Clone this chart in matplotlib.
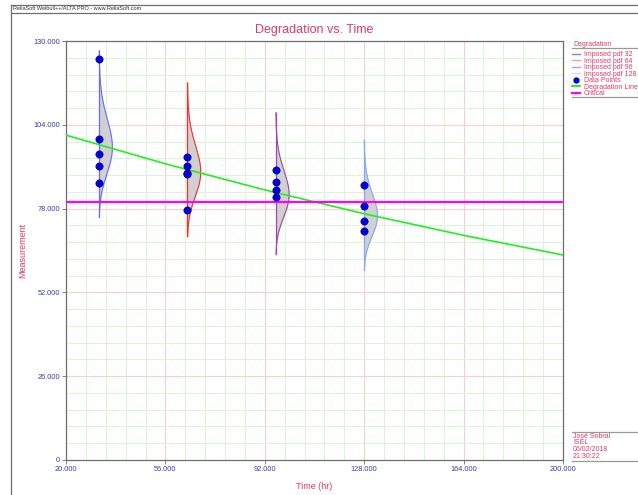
import numpy as np
import matplotlib
matplotlib.use('Agg')
import matplotlib.pyplot as plt
from matplotlib.lines import Line2D
from matplotlib.ticker import FixedLocator

plt.rcParams['font.family'] = ['Liberation Sans', 'DejaVu Sans']

# measured data points (time, measurement)
times_32 = [32, 32, 32, 32, 32]
meas_32 = [124.5, 99.7, 95.0, 91.3, 85.9]
times_64 = [64, 64, 64, 64, 64]
meas_64 = [94.0, 91.2, 89.0, 88.6, 77.5]
times_96 = [96, 96, 96, 96]
meas_96 = [90.1, 86.4, 83.8, 81.7]
times_128 = [128, 128, 128, 128]
meas_128 = [85.2, 78.7, 74.1, 71.0]

# degradation line read at the tick positions
line_t = [20, 56, 92, 128, 164, 200]
line_y = [100.8, 91.9, 83.8, 76.4, 69.7, 63.6]
critical = 80.0

# imposed pdfs (lognormal): median at each inspection time, log-sigma
pdf_times = [32, 64, 96, 128]
pdf_medians = [97.8, 90.1, 83.0, 76.4]
pdf_sigma = 0.087
pdf_colors = ['#6a6aff', '#ff2a2a', '#a048a8', '#86a8f4']
legend_colors = ['#8080ff', '#ff9a9a', '#c898d0', '#cfe0ff']
pdf_labels = ['Imposed pdf 32', 'Imposed pdf 64', 'Imposed pdf 96', 'Imposed pdf 128']

x_ticks = [20, 56, 92, 128, 164, 200]
y_ticks = [0, 26, 52, 78, 104, 130]

pink = '#e6386a'
tick_blue = '#3b3ba6'
frame_gray = '#6e6e6e'

fig = plt.figure(figsize=(6.38, 4.95), dpi=100)
ax = fig.add_axes([66 / 638, 1 - 460 / 495, 497 / 638, 419 / 495])

# grid
ax.set_xlim(20, 200)
ax.set_ylim(0, 130)
ax.set_xticks(x_ticks)
ax.set_yticks(y_ticks)
ax.xaxis.set_minor_locator(FixedLocator(np.arange(20, 200.1, 7.2)))
ax.yaxis.set_minor_locator(FixedLocator(np.arange(0, 130.1, 5.2)))
ax.grid(which='minor', color='#d6f6d6', lw=0.7, zorder=0)
ax.grid(which='major', color='#ffcccc', lw=0.8, zorder=0)
ax.set_axisbelow(True)

# imposed pdfs
peak_width = 4.8
for t, med, col in zip(pdf_times, pdf_medians, pdf_colors):
    yy = np.linspace(med * np.exp(-3 * pdf_sigma), med * np.exp(3 * pdf_sigma), 200)
    dens = np.exp(-(np.log(yy) - np.log(med)) ** 2 / (2 * pdf_sigma ** 2)) / yy
    dens = dens / dens.max() * peak_width
    ax.fill_betweenx(yy, t, t + dens, color='#d0d0d0', lw=0, zorder=2)
    ax.plot(t + dens, yy, color=col, lw=0.8, zorder=3)
    ax.plot([t, t], [yy[0], yy[-1]], color=col, lw=0.9, zorder=3)

ax.plot(line_t, line_y, color='#22ee22', lw=1.2, zorder=4)
ax.axhline(critical, color='#ff00ff', lw=1.6, zorder=4)

for tt, mm in [(times_32, meas_32), (times_64, meas_64),
               (times_96, meas_96), (times_128, meas_128)]:
    ax.plot(tt, mm, 'o', color='#0000dd', mec='#000070', mew=0.4,
            markersize=5.3, zorder=5)

# axes styling
for s in ax.spines.values():
    s.set_color(frame_gray)
    s.set_linewidth(0.9)
ax.tick_params(which='major', length=3, width=0.6, color=frame_gray,
               labelsize=5.3, labelcolor=tick_blue, pad=1.5)
ax.tick_params(which='minor', length=0)
ax.set_xticklabels(['%.3f' % v for v in x_ticks])
ax.set_yticklabels(['0'] + ['%.3f' % v for v in y_ticks[1:]])

ax.set_title('Degradation vs. Time', color=pink, fontsize=9, pad=6)
ax.set_xlabel('Time (hr)', color=pink, fontsize=6.5, labelpad=6)
ax.set_ylabel('Measurement', color=pink, fontsize=6.5, labelpad=4)

# outer frame and header
fig.add_artist(Line2D([11 / 638, 1], [1 - 5 / 495] * 2, color=frame_gray, lw=0.9))
fig.add_artist(Line2D([11 / 638, 1], [1 - 13 / 495] * 2, color=frame_gray, lw=0.9))
fig.add_artist(Line2D([11 / 638] * 2, [0, 1 - 5 / 495], color=frame_gray, lw=0.9))
fig.text(13 / 638, 1 - 9 / 495, 'ReliaSoft Weibull++/ALTA PRO - www.ReliaSoft.com',
         fontsize=4, color='#333333', va='center')

# legend
fig.text(573 / 638, 1 - 44 / 495, 'Degradation', fontsize=5, color=pink, va='center')
fig.add_artist(Line2D([572 / 638, 1], [1 - 47.5 / 495] * 2, color='#999999', lw=0.9))
fig.add_artist(Line2D([572 / 638, 1], [1 - 97 / 495] * 2, color='#999999', lw=0.9))
handles = [Line2D([], [], color=c, lw=1) for c in legend_colors]
handles.append(Line2D([], [], ls='', marker='o', color='#0000dd', markersize=3.5))
handles.append(Line2D([], [], color='#00ee00', lw=1.2))
handles.append(Line2D([], [], color='#ff00ff', lw=1.6))
labels = pdf_labels + ['Data Points', 'Degradation Line', 'Critical']
fig.legend(handles, labels, loc='upper left', bbox_to_anchor=(572 / 638, 1 - 51 / 495),
           frameon=False, fontsize=5, labelcolor=pink, handlelength=1.2,
           handletextpad=0.5, labelspacing=-0.07, borderpad=0, borderaxespad=0)

# info box
fig.add_artist(Line2D([572 / 638, 1], [1 - 432 / 495] * 2, color='#999999', lw=0.9))
fig.add_artist(Line2D([572 / 638, 1], [1 - 460.5 / 495] * 2, color='#999999', lw=0.9))
for i, txt in enumerate(['José Sobral', 'ISEL', '06/02/2018', '21:30:22']):
    fig.text(573 / 638, 1 - (436 + 6.8 * i) / 495, txt, fontsize=5, color=pink, va='center')

fig.savefig('out.png', dpi=100)
